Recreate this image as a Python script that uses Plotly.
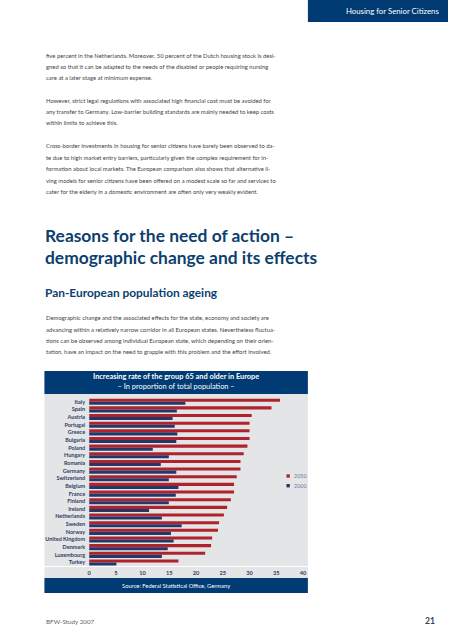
import plotly.graph_objects as go

W, H = 452, 640

countries = ["Italy", "Spain", "Austria", "Portugal", "Greece", "Bulgaria", "Poland",
             "Hungary", "Romania", "Germany", "Switzerland", "Belgium", "France",
             "Finland", "Ireland", "Netherlands", "Sweden", "Norway", "United Kingdom",
             "Denmark", "Luxembourg", "Turkey"]
share_2050 = [35.7, 34.1, 30.4, 30.0, 30.0, 30.0, 29.6, 28.9, 28.3, 28.3, 27.6, 27.1,
              27.1, 26.5, 25.8, 25.2, 24.3, 24.1, 23.0, 22.8, 21.7, 16.7]
share_2000 = [18.0, 16.4, 15.6, 16.0, 16.5, 16.3, 11.9, 14.9, 13.4, 16.3, 14.9, 16.7,
              16.2, 14.9, 11.2, 13.6, 17.3, 15.3, 15.8, 14.7, 13.6, 5.1]
x_ticks = [0, 5, 10, 15, 20, 25, 30, 35, 40]

NAVY = "#003b73"
HEAD = "#0d3f6e"
RED = "#b0232d"
DARK = "#233868"
GRAY_BG = "#e4e5e7"
TEXT = "#444444"
FONT = "Lato"


def px(x):
    return x / W


def py(y):
    return 1 - y / H


fig = go.Figure()
fig.add_trace(go.Bar(y=countries, x=share_2050, name="2050", orientation="h",
                     marker=dict(color=RED, line=dict(width=0)), showlegend=False))
fig.add_trace(go.Bar(y=countries, x=share_2000, name="2000", orientation="h",
                     marker=dict(color=DARK, line=dict(width=0)), showlegend=False))

x0, x1 = 88.3, 88.3 + 40 * 5.42
y_top, y_bot = 397.9, 566.3

fig.update_layout(
    width=W, height=H,
    margin=dict(l=0, r=0, t=0, b=0),
    paper_bgcolor="white", plot_bgcolor="rgba(0,0,0,0)",
    barmode="group", bargap=0.2, bargroupgap=0,
    font=dict(family=FONT, color=TEXT),
    xaxis=dict(domain=[px(x0), px(x1)], range=[0, 40], tickvals=x_ticks,
               showgrid=False, zeroline=False, showline=False, ticks="",
               tickfont=dict(family=FONT, size=5.6, color="#2e3f63", weight="bold"),
               ticklabelstandoff=2, fixedrange=True),
    yaxis=dict(domain=[py(y_bot), py(y_top)], autorange="reversed",
               tickmode="array", tickvals=countries, ticktext=countries,
               showgrid=False, zeroline=False, showline=False, ticks="",
               tickfont=dict(family=FONT, size=5.5, color="#2e3f63", weight="bold"),
               ticklabelstandoff=3, fixedrange=True),
)

shapes = [
    dict(type="rect", xref="paper", yref="paper", x0=px(310), x1=px(452), y0=py(0), y1=py(22),
         fillcolor=NAVY, line=dict(width=0), layer="below"),
    dict(type="rect", xref="paper", yref="paper", x0=px(43), x1=px(310), y0=py(371), y1=py(394),
         fillcolor=NAVY, line=dict(width=0), layer="below"),
    dict(type="rect", xref="paper", yref="paper", x0=px(43), x1=px(310), y0=py(394), y1=py(578),
         fillcolor=GRAY_BG, line=dict(width=0), layer="below"),
    dict(type="line", xref="paper", yref="paper", x0=px(43), x1=px(310), y0=py(566.5), y1=py(566.5),
         line=dict(color="white", width=1), layer="below"),
    dict(type="rect", xref="paper", yref="paper", x0=px(43), x1=px(310), y0=py(578), y1=py(593),
         fillcolor=NAVY, line=dict(width=0), layer="below"),
    dict(type="rect", xref="paper", yref="paper", x0=px(288.3), x1=px(291.7), y0=py(474.3), y1=py(477.7),
         fillcolor=RED, line=dict(width=0)),
    dict(type="rect", xref="paper", yref="paper", x0=px(288.3), x1=px(291.7), y0=py(484), y1=py(487.4),
         fillcolor=DARK, line=dict(width=0)),
]

ann = []


def text(x, y, s, size, color=TEXT, bold=False, xanchor="left", family=FONT):
    ann.append(dict(x=px(x), y=py(y), xref="paper", yref="paper", text=s, showarrow=False,
                    xanchor=xanchor, yanchor="middle", align="center",
                    font=dict(family=family, size=size, color=color,
                              weight="bold" if bold else "normal")))


text(396, 11, "Housing for Senior Citizens", 7.8, "white", xanchor="center")

body = [
    (55, "five percent in the Netherlands. Moreover, 50 percent of the Dutch housing stock is desi-"),
    (66, "gned so that it can be adapted to the needs of the disabled or people requiring nursing"),
    (77.3, "care at a later stage at minimum expense."),
    (100, "However, strict legal regulations with associated high financial cost must be avoided for"),
    (111.7, "any transfer to Germany. Low-barrier building standards are mainly needed to keep costs"),
    (123, "within limits to achieve this."),
    (145.7, "Cross-border investments in housing for senior citizens have barely been observed to da-"),
    (157.3, "te due to high market entry barriers, particularly given the complex requirement for in-"),
    (168.7, "formation about local markets. The European comparison also shows that alternative li-"),
    (180, "ving models for senior citizens have been offered on a modest scale so far and services to"),
    (191.3, "cater for the elderly in a domestic environment are often only very weakly evident."),
    (317.3, "Demographic change and the associated effects for the state, economy and society are"),
    (329, "advancing within a relatively narrow corridor in all European states. Nevertheless fluctua-"),
    (340.5, "tions can be observed among individual European state, which depending on their orien-"),
    (351.5, "tation, have an impact on the need to grapple with this problem and the effort involved."),
]
for y, s in body:
    text(42.5, y, s, 5.9)

text(42, 235, "Reasons for the need of action –", 17.4, HEAD, bold=True)
text(42, 257.5, "demographic change and its effects", 17.4, HEAD, bold=True)
text(42, 292.5, "Pan-European population ageing", 11.9, HEAD, bold=True)

text(176.5, 381.8,
     "<b>Increasing rate of the group 65 and older in Europe</b><br>– In proportion of total population –",
     7.4, "white", xanchor="center")

text(294, 476, "2050", 5.4, "#6b7b96")
text(294, 485.7, "2000", 5.4, "#6b7b96")

text(176.5, 585.5, "Source: Federal Statistical Office, Germany", 5.8, "white", xanchor="center")

text(42.5, 621, "BFW-Study 2007", 6.3, "#666666")
text(441, 621, "21", 8.6, "#33405a", bold=True, xanchor="right")

fig.update_layout(shapes=shapes, annotations=ann)
fig.write_html("out.html", config={"displayModeBar": False},
               post_script="document.body.style.margin='0';document.body.style.overflow='hidden';")
